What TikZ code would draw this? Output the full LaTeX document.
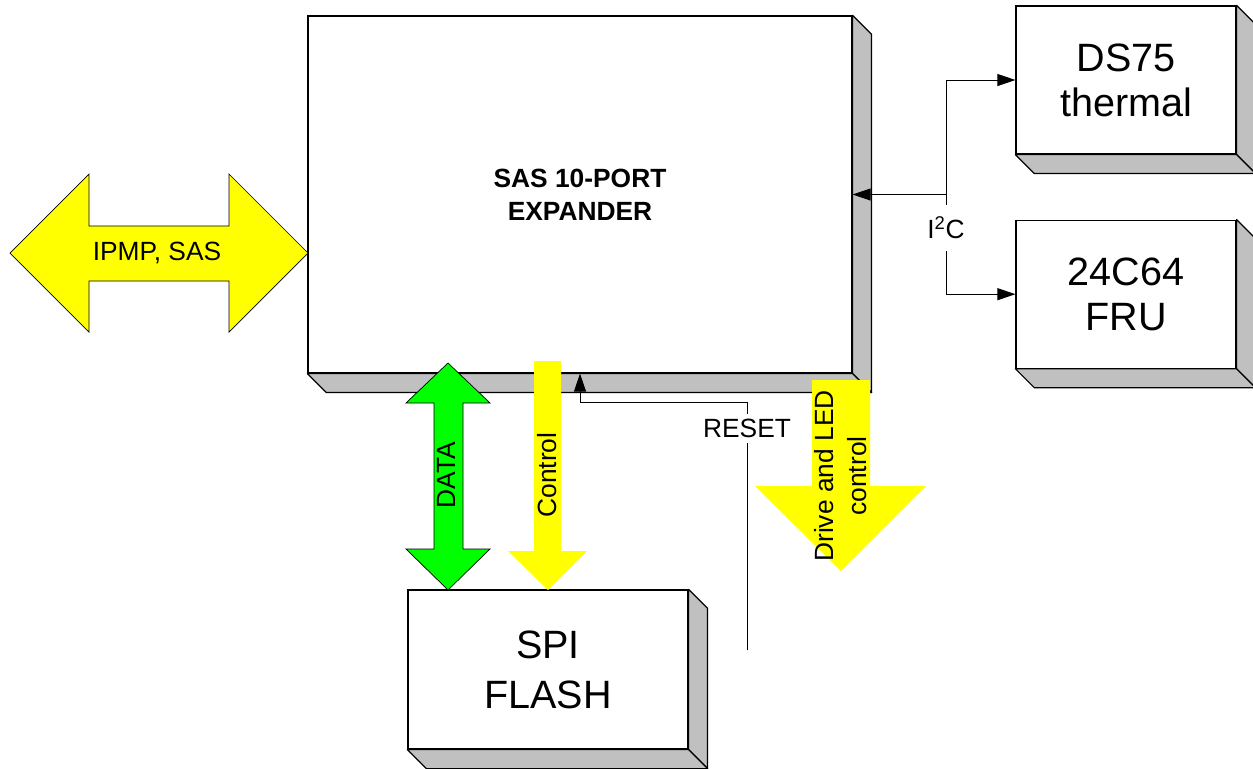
\documentclass[tikz,border=0pt]{standalone}
\usepackage{fontspec}
\setmainfont{Liberation Sans}
\usetikzlibrary{positioning, calc, arrows.meta}
\definecolor{sidegray}{HTML}{C0C0C0}
\definecolor{sigyellow}{HTML}{FFFF00}
\definecolor{siggreen}{HTML}{00FF00}

\begin{document}
\begin{tikzpicture}[
        x=0.02cm, y=-0.02cm,
        node distance=1.3cm and 1.3cm,
        box/.style={rectangle, draw=black, fill=white, line width=0.7pt, align=center, inner sep=0pt},
        chip/.style={box, minimum width=4.4cm, minimum height=2.96cm, font=\fontsize{22.5}{25.6}\selectfont},
        depth/.style={draw=black, fill=sidegray, line width=0.7pt, line join=round},
        wire/.style={draw=black, line width=0.5pt, -{Triangle[length=3.6mm, width=2.4mm]}},
        lbl/.style={font=\fontsize{15}{18.8}\selectfont, inner sep=1pt, align=center}
    ]
        \useasboundingbox (0,0) rectangle (1253,768);

        \node[box, minimum width=10.88cm, minimum height=7.14cm, font=\bfseries\fontsize{15}{18.8}\selectfont] (exp) at (580,194.5) {SAS 10-PORT\\EXPANDER};
        \node[chip] (ds) at (1126,80) {DS75\\thermal};
        \node[chip, below=of ds] (fru) {24C64\\FRU};
        \node[box, minimum width=5.6cm, minimum height=3.18cm, font=\fontsize{22.5}{28.4}\selectfont] (spi) at (548,669.5) {SPI\\FLASH};

        \foreach \n in {exp, ds, fru, spi} {
            \filldraw[depth] (\n.north east) -- ++(19,19) -- ($(\n.south east)+(19,19)$) -- (\n.south east) -- cycle;
            \filldraw[depth] (\n.south west) -- ++(19,19) -- ($(\n.south east)+(19,19)$) -- (\n.south east) -- cycle;
        }

        \filldraw[fill=sigyellow, draw=black, line width=0.4pt] (10,253) -- (89,174) -- (89,226) -- (229,226) -- (229,174) -- (308,253)
            -- (229,332) -- (229,281) -- (89,281) -- (89,332) -- cycle;
        \filldraw[fill=siggreen, draw=black, line width=0.4pt] (448,363) -- (490,403) -- (463,403) -- (463,549) -- (490,549) -- (448,590)
            -- (406,549) -- (434,549) -- (434,403) -- (406,403) -- cycle;
        \fill[sigyellow] (534,361) -- (561,361) -- (561,551) -- (587,551) -- (548,590) -- (508,551) -- (534,551) -- cycle;
        \fill[sigyellow] (812,380) -- (870,380) -- (870,486) -- (926,486) -- (841,571) -- (755,486) -- (812,486) -- cycle;

        \node[lbl] (ipmp) at (157,253) {IPMP, SAS};
        \node[lbl, rotate=90] (data) at (446,475) {DATA};
        \node[lbl, rotate=90] (ctl) at (547,475) {Control};
        \node[lbl, rotate=90] (drv) at (841,476) {Drive and LED\\control};

        \coordinate (rst) at (747,650);
        \coordinate (i2c) at (946,194.5);
        \draw[wire] (rst) -- (747,402) -| (exp.south);
        \node[lbl, fill=white, minimum height=0.58cm] (rlab) at (747,428) {RESET};
        \draw[wire] (i2c) -- (i2c -| exp.east);
        \draw[wire] (i2c) |- (ds.west);
        \draw[wire] (i2c) |- (fru.west);
        \node[lbl, fill=white, minimum height=0.92cm] (i2clab) at (946,228) {I\textsuperscript{2}C};
    \end{tikzpicture}
\end{document}
